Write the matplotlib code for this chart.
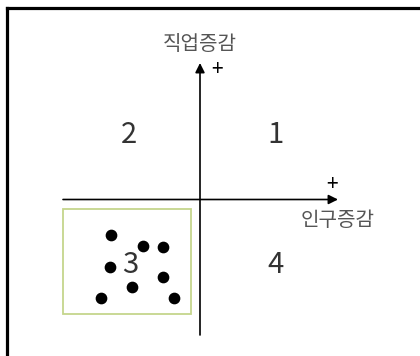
import matplotlib
matplotlib.use("Agg")
import matplotlib.pyplot as plt
from matplotlib.patches import Rectangle
from matplotlib.lines import Line2D

plt.rcParams['font.family'] = ['Noto Sans CJK KR', 'DejaVu Sans']

# Data (offsets from the axis origin)
pts_x = [-89, -57, -37, -90, -37, -68, -99, -26]
pts_y = [-35.5, -46.5, -47.5, -67.5, -77.5, -87.5, -98.5, -98.5]
quad_labels = ["1", "2", "3", "4"]
quad_x = [76, -71, -70, 76]
quad_y = [64.5, 64.5, -65.5, -65.5]
x_label = "인구증감"
y_label = "직업증감"

fig = plt.figure(figsize=(4.2, 3.56), dpi=100)
ax = fig.add_axes([0, 0, 1, 1])
ax.set_xlim(-200, 220)
ax.set_ylim(-156.5, 199.5)
ax.axis('off')

# outer frame: top and left only
fx = 6.5 / 420
fy = 1 - 8 / 356
fig.lines.append(Line2D([fx, 1.0], [fy, fy], transform=fig.transFigure,
                        color='black', linewidth=2.3, solid_capstyle='projecting'))
fig.lines.append(Line2D([fx, fx], [fy, 0.0], transform=fig.transFigure,
                        color='black', linewidth=2.3, solid_capstyle='projecting'))

# green box around quadrant 3
ax.add_patch(Rectangle((-137, -114.5), 128, 105, fill=False,
                       edgecolor='#c5d68c', linewidth=1.3))

# axes arrows
ax.annotate('', xy=(138, 0), xytext=(-137, 0),
            arrowprops=dict(arrowstyle='-|>', color='black', lw=1.2,
                            mutation_scale=14, shrinkA=0, shrinkB=0))
ax.annotate('', xy=(0, 136.5), xytext=(0, -135.5),
            arrowprops=dict(arrowstyle='-|>', color='black', lw=1.2,
                            mutation_scale=14, shrinkA=0, shrinkB=0))

ax.text(17, 129.5, '+', fontsize=15, ha='center', va='center', color='black')
ax.text(132, 14.5, '+', fontsize=15, ha='center', va='center', color='black')
ax.text(0, 154.5, y_label, fontsize=14.5, ha='center', va='center', color='#555555')
ax.text(138, -20.5, x_label, fontsize=14.5, ha='center', va='center', color='#555555')

for lab, qx, qy in zip(quad_labels, quad_x, quad_y):
    ax.text(qx, qy, lab, fontsize=21, ha='center', va='center', color='#333333',
            fontweight='light')

ax.scatter(pts_x, pts_y, s=55, color='black', zorder=3)

fig.savefig('out.png', dpi=100)
